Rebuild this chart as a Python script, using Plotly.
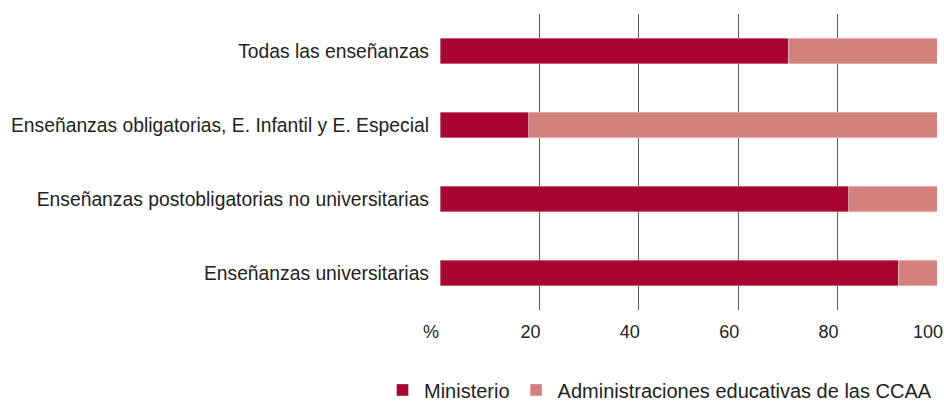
import plotly.graph_objects as go

categories = [
    "Todas las enseñanzas",
    "Enseñanzas obligatorias, E. Infantil y E. Especial",
    "Enseñanzas postobligatorias no universitarias",
    "Enseñanzas universitarias",
]
ministerio = [70.1, 17.9, 82.2, 92.2]
ccaa = [29.9, 82.1, 17.8, 7.8]
series_names = ["Ministerio", "Administraciones educativas de las CCAA"]
tick_vals = [0, 20, 40, 60, 80, 100]
tick_text = ["%", "20", "40", "60", "80", "100"]

FONT = "Liberation Sans, Arial, sans-serif"
fig = go.Figure()
fig.add_trace(go.Bar(
    y=categories, x=ministerio, orientation="h", name=series_names[0],
    marker=dict(color="#A80532", line=dict(width=0.6, color="rgba(255,255,255,0.6)")),
    width=0.345,
))
fig.add_trace(go.Bar(
    y=categories, x=ccaa, orientation="h", name=series_names[1],
    marker=dict(color="#D3817D", line=dict(width=0.6, color="rgba(255,255,255,0.6)")),
    width=0.345,
))
fig.update_layout(
    barmode="stack",
    width=944, height=401,
    margin=dict(l=440, r=7, t=14, b=91, autoexpand=False),
    plot_bgcolor="white", paper_bgcolor="white",
    font=dict(family=FONT, size=19, color="#222222"),
    showlegend=True,
    legend=dict(orientation="h", x=-0.1187, xanchor="left", y=-0.27, yanchor="middle",
                font=dict(size=20), traceorder="normal", itemwidth=33),
    xaxis=dict(range=[0, 100], tickvals=tick_vals, ticktext=tick_text,
               showgrid=True, gridcolor="#5a5a5a", gridwidth=1.3,
               zeroline=False, showline=False, ticks="",
               ticklabelshift=-9, ticklabelstandoff=9, ticklabeloverflow="allow",
               tickfont=dict(size=18, color="#222222")),
    yaxis=dict(autorange="reversed", showgrid=False, showline=False, ticks="",
               ticklabelstandoff=10, tickfont=dict(size=19.3, color="#222222")),
)
# remove the default page margin so the figure fills the window exactly
fig.write_html("out.html",
               config={"displayModeBar": False},
               post_script="document.body.style.margin='0';document.body.style.overflow='hidden';")
